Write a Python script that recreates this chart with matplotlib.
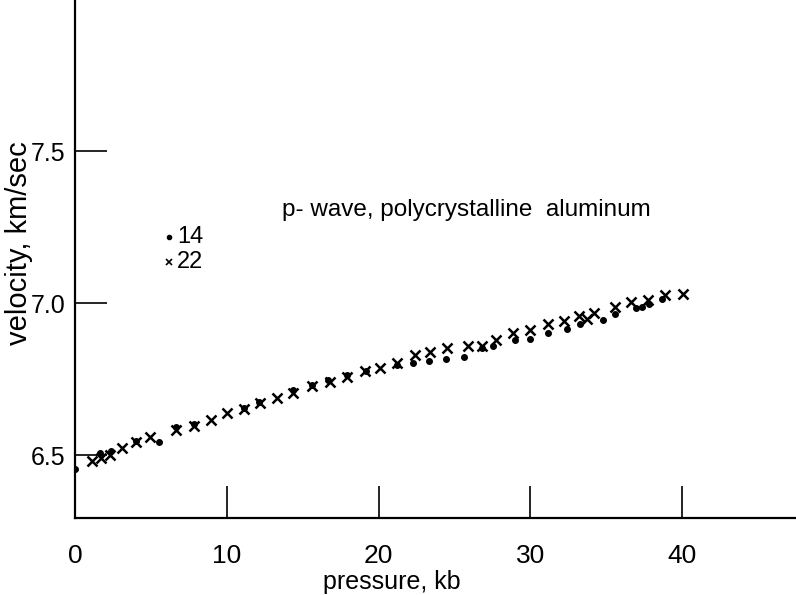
import matplotlib
matplotlib.use("Agg")
import matplotlib.pyplot as plt

plt.rcParams['font.family'] = ['Liberation Sans', 'DejaVu Sans']

# sample 14 (dots)
p14 = [0.0, 1.65, 2.38, 4.03, 5.54, 6.67, 7.85, 11.16, 12.15, 14.39, 15.64,
       16.70, 17.89, 19.14, 21.19, 22.24, 23.30, 24.42, 25.61, 26.80, 27.52,
       28.98, 29.97, 31.16, 32.41, 33.27, 34.79, 35.58, 36.96, 37.36, 37.82,
       38.68]
v14 = [6.454, 6.507, 6.513, 6.546, 6.543, 6.592, 6.602, 6.655, 6.674, 6.714,
       6.730, 6.747, 6.763, 6.776, 6.796, 6.803, 6.809, 6.816, 6.822, 6.852,
       6.859, 6.878, 6.882, 6.901, 6.914, 6.931, 6.944, 6.964, 6.984, 6.987,
       6.997, 7.013]

# sample 22 (crosses)
p22 = [1.12, 1.72, 2.31, 3.10, 4.03, 4.95, 6.67, 7.85, 8.98, 10.03, 11.16,
       12.21, 13.33, 14.39, 15.64, 16.77, 17.89, 19.08, 20.07, 21.19, 22.38,
       23.37, 24.49, 25.87, 26.80, 27.72, 28.84, 29.97, 31.16, 32.21, 33.20,
       33.73, 34.19, 35.58, 36.63, 37.76, 38.88, 40.07]
v22 = [6.480, 6.490, 6.500, 6.523, 6.543, 6.559, 6.582, 6.595, 6.615, 6.638,
       6.651, 6.671, 6.688, 6.704, 6.727, 6.740, 6.757, 6.776, 6.786, 6.803,
       6.829, 6.839, 6.852, 6.859, 6.859, 6.878, 6.901, 6.911, 6.931, 6.941,
       6.957, 6.947, 6.967, 6.987, 7.003, 7.010, 7.026, 7.030]

xticks = [0, 10, 20, 30, 40]
yticks = [6.5, 7.0, 7.5]

fig = plt.figure(figsize=(7.96, 5.95), dpi=100)
ax = fig.add_axes([0.0942, 0.1294, 0.9058, 0.8706])

ax.plot(p14, v14, linestyle='none', marker='o', markersize=4, color='black')
ax.plot(p22, v22, linestyle='none', marker='x', markersize=7, markeredgewidth=1.8, color='black')

ax.set_xlim(0, 47.5)
ax.set_ylim(6.293, 7.997)

ax.spines['top'].set_visible(False)
ax.spines['right'].set_visible(False)
ax.spines['left'].set_linewidth(1.6)
ax.spines['bottom'].set_linewidth(1.6)

ax.set_xticks(xticks)
ax.set_xticklabels([str(t) for t in xticks])
ax.set_yticks(yticks)
ax.set_yticklabels(["%.1f" % t for t in yticks])
ax.tick_params(axis='x', direction='in', length=23, width=1.2, pad=19, labelsize=19)
ax.tick_params(axis='y', direction='in', length=23, width=1.2, pad=7, labelsize=18)

ax.set_xlabel("pressure, kb", fontsize=18, labelpad=2)
ax.xaxis.set_label_coords(0.44, -0.1)
ax.set_ylabel("velocity, km/sec", fontsize=21)
ax.yaxis.set_label_coords(-0.058, 0.53)

ax.text(13.66, 7.306, "p- wave, polycrystalline  aluminum", fontsize=17.5, va='center', ha='left')

# key
ax.plot([6.2], [7.217], linestyle='none', marker='o', markersize=3, color='black')
ax.text(6.73, 7.217, "14", fontsize=17, va='center', ha='left')
ax.plot([6.2], [7.135], linestyle='none', marker='x', markersize=4.5, markeredgewidth=1.2, color='black')
ax.text(6.73, 7.135, "22", fontsize=17, va='center', ha='left')

fig.savefig("out.png", dpi=100)
